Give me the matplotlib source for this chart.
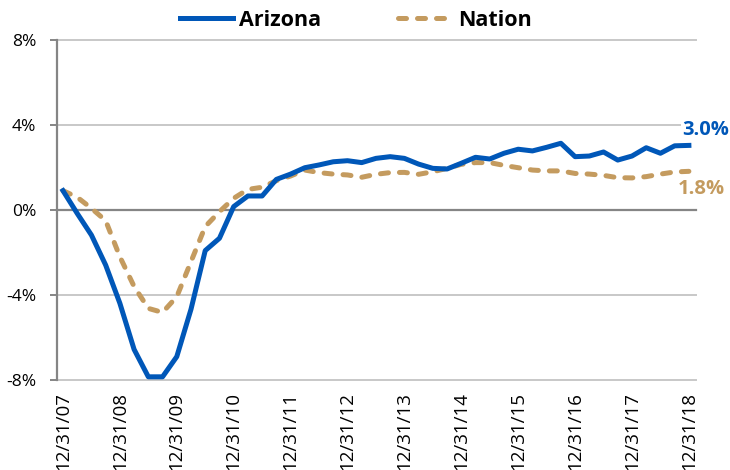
import matplotlib
matplotlib.use("Agg")
import matplotlib.pyplot as plt

plt.rcParams['font.family'] = ['Open Sans', 'DejaVu Sans']

# quarterly values, 12/31/07 .. 12/31/18
arizona = [0.91, -0.16, -1.18, -2.59, -4.39, -6.56, -7.85, -7.85, -6.9, -4.67,
           -1.91, -1.33, 0.16, 0.66, 0.66, 1.44, 1.69, 1.99, 2.12, 2.27,
           2.32, 2.23, 2.43, 2.51, 2.43, 2.16, 1.96, 1.93, 2.2, 2.48,
           2.4, 2.67, 2.86, 2.78, 2.95, 3.14, 2.51, 2.54, 2.73, 2.35,
           2.54, 2.93, 2.67, 3.02, 3.04]
nation = [0.91, 0.6, 0.08, -0.5, -2.2, -3.6, -4.63, -4.82, -4.08, -2.43,
          -0.78, -0.08, 0.55, 0.97, 1.07, 1.38, 1.6, 1.88, 1.76, 1.69,
          1.65, 1.54, 1.68, 1.76, 1.77, 1.68, 1.8, 1.96, 2.15, 2.23,
          2.23, 2.1, 1.99, 1.88, 1.84, 1.84, 1.72, 1.69, 1.63, 1.52,
          1.51, 1.57, 1.69, 1.79, 1.82]
year_labels = ['12/31/07', '12/31/08', '12/31/09', '12/31/10', '12/31/11', '12/31/12',
               '12/31/13', '12/31/14', '12/31/15', '12/31/16', '12/31/17', '12/31/18']
y_ticks = [-8, -4, 0, 4, 8]

blue = '#0057b8'
tan = '#c49b5f'

fig = plt.figure(figsize=(7.3, 4.7), dpi=100)
ax = fig.add_axes([57/730, 1-380/470, 639/730, 340/470])

x = list(range(len(arizona)))

for v in y_ticks:
    if v == 0:
        ax.axhline(v, color='#858585', lw=1.6, zorder=1, clip_on=False)
    else:
        ax.axhline(v, color='#c8c8c8', lw=1.4, zorder=1, clip_on=False)

ax.plot(x, arizona, color=blue, lw=3.6, solid_joinstyle='round', label='Arizona', zorder=3)
ax.plot(x, nation, color=tan, lw=3.6, dashes=(1.6, 2.2), dash_capstyle='round',
        label='Nation', zorder=2)

ax.set_xlim(-0.42, 44.5)
ax.set_ylim(-8, 8)

for s in ['top', 'right', 'bottom']:
    ax.spines[s].set_visible(False)
ax.spines['left'].set_color('#858585')
ax.spines['left'].set_linewidth(1.6)

ax.set_yticks(y_ticks)
ax.set_yticklabels([str(v) + '%' for v in y_ticks])
ax.tick_params(axis='y', length=5, width=1.4, color='#858585', pad=10, labelsize=12.5)

ax.set_xticks(x[::4])
ax.set_xticklabels(year_labels, rotation=90, va='top', ha='center')
ax.tick_params(axis='x', length=0, pad=9, labelsize=13.5)

ax.annotate('3.0%', xy=(x[-1], arizona[-1]), xytext=(-4.5, 11), textcoords='offset points',
            ha='left', va='center', color=blue, fontsize=14.5, fontweight='bold',
            bbox=dict(fc='white', ec='none', pad=1))
ax.annotate('1.8%', xy=(x[-1], nation[-1]), xytext=(-8, -13), textcoords='offset points',
            ha='left', va='center', color=tan, fontsize=14.5, fontweight='bold',
            bbox=dict(fc='white', ec='none', pad=1))

fig.legend(loc='center', bbox_to_anchor=(0.487, 1-20/470), ncol=2, frameon=False,
           prop={'weight': 'bold', 'size': 15.5}, handlelength=2.5, handletextpad=0.25,
           columnspacing=3.6)

fig.savefig('out.png', dpi=100)
